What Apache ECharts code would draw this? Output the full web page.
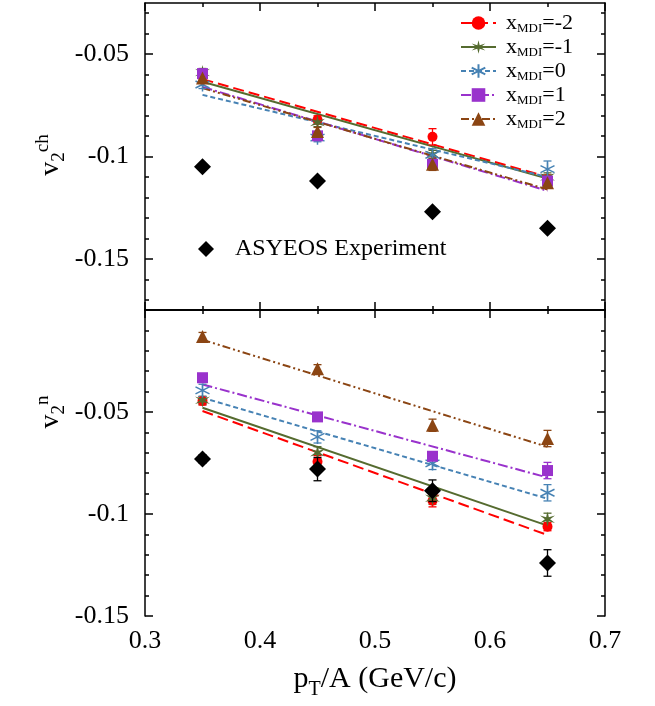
<!DOCTYPE html>
<html>
<head>
<meta charset="utf-8">
<script src="https://cdn.jsdelivr.net/npm/echarts@6/dist/echarts.min.js"></script>
<style>
  html, body { margin: 0; padding: 0; background: #fff; }
  #chart { width: 655px; height: 706px; }
</style>
</head>
<body>
<div id="chart"></div>
<script>
// ---- data -------------------------------------------------------------
const pT = [0.35, 0.45, 0.55, 0.65];          // p_T/A (GeV/c)
const fitX = [0.35, 0.65];                    // end points of the linear fits

const xTickValues = [0.3, 0.4, 0.5, 0.6, 0.7];
const xMinorValues = [0.35, 0.45, 0.55, 0.65];
const yTickValues = [-0.15, -0.1, -0.05];
const yMinorCh = [-0.17, -0.16, -0.14, -0.13, -0.12, -0.11, -0.09, -0.08, -0.07, -0.06, -0.04, -0.03];
const yMinorN = [-0.14, -0.13, -0.12, -0.11, -0.09, -0.08, -0.07, -0.06, -0.04, -0.03, -0.02, -0.01];

const modelNames = ['x_MDI=-2', 'x_MDI=-1', 'x_MDI=0', 'x_MDI=1', 'x_MDI=2'];
const expName = 'ASYEOS Experiment';

// charged particles, v2^ch
const chM2 = [-0.0605, -0.0821, -0.0904, -0.1110];
const chM2Err = [0.002, 0.002, 0.004, 0.002];
const chM2Fit = [-0.0622, -0.1100];
const chM1 = [-0.0590, -0.0834, -0.0990, -0.1100];
const chM1Err = [0.002, 0.002, 0.002, 0.002];
const chM1Fit = [-0.0635, -0.1108];
const chZ0 = [-0.0648, -0.0908, -0.0992, -0.1062];
const chZ0Err = [0.002, 0.002, 0.003, 0.004];
const chZ0Fit = [-0.0699, -0.1100];
const chP1 = [-0.0595, -0.0899, -0.1038, -0.1120];
const chP1Err = [0.002, 0.002, 0.002, 0.002];
const chP1Fit = [-0.0660, -0.1168];
const chP2 = [-0.0617, -0.0878, -0.1038, -0.1128];
const chP2Err = [0.002, 0.002, 0.003, 0.002];
const chP2Fit = [-0.0666, -0.1161];
const chExp = [-0.105, -0.112, -0.127, -0.135];

// neutrons, v2^n
const nM2 = [-0.0446, -0.0744, -0.0935, -0.1062];
const nM2Err = [0.002, 0.003, 0.003, 0.002];
const nM2Fit = [-0.0495, -0.1103];
const nM1 = [-0.0443, -0.0700, -0.0923, -0.1026];
const nM1Err = [0.002, 0.003, 0.003, 0.003];
const nM1Fit = [-0.0479, -0.1057];
const nZ0 = [-0.0394, -0.0622, -0.0752, -0.0896];
const nZ0Err = [0.003, 0.003, 0.003, 0.004];
const nZ0Fit = [-0.0430, -0.0925];
const nP1 = [-0.0332, -0.0524, -0.0717, -0.0787];
const nP1Err = [0.002, 0.002, 0.002, 0.004];
const nP1Fit = [-0.0365, -0.0821];
const nP2 = [-0.0130, -0.0288, -0.0565, -0.0630];
const nP2Err = [0.002, 0.002, 0.003, 0.004];
const nP2Fit = [-0.0146, -0.0671];
const nExp = [-0.0730, -0.0780, -0.0886, -0.1240];
const nExpErr = [0.002, 0.0057, 0.0053, 0.0065];

// ---- styles -----------------------------------------------------------
const FONT = 'Liberation Serif';
const STAR6 = 'path://M0,-10L1.5,-2.6L8.66,-5L3,0L8.66,5L1.5,2.6L0,10L-1.5,2.6L-8.66,5L-3,0L-8.66,-5L-1.5,-2.6Z';
const ASTERISK = 'path://M0,-10L0,10M-8.66,-5L8.66,5M-8.66,5L8.66,-5';

const modelStyles = [
  { color: '#ff0000', symbol: 'circle', size: 10, dash: [11, 5], fill: true },
  { color: '#556b2f', symbol: STAR6, size: 15, dash: 'solid', fill: true },
  { color: '#4682b4', symbol: ASTERISK, size: 14, dash: [5, 3], fill: false },
  { color: '#9932cc', symbol: 'rect', size: 11, dash: [10, 3, 2, 3], fill: true },
  { color: '#8b4513', symbol: 'triangle', size: 13, dash: [8, 3, 2, 3, 2, 3], fill: true }
];

const chSets = [
  [chM2, chM2Err, chM2Fit], [chM1, chM1Err, chM1Fit], [chZ0, chZ0Err, chZ0Fit],
  [chP1, chP1Err, chP1Fit], [chP2, chP2Err, chP2Fit]
];
const nSets = [
  [nM2, nM2Err, nM2Fit], [nM1, nM1Err, nM1Fit], [nZ0, nZ0Err, nZ0Fit],
  [nP1, nP1Err, nP1Fit], [nP2, nP2Err, nP2Fit]
];

// ---- axes -------------------------------------------------------------
const black = { color: '#000', width: 1.5 };
const tickLabel = { color: '#000', fontFamily: FONT, fontSize: 26 };

function xAxesFor(grid, withLabels) {
  const base = { gridIndex: grid, type: 'value', min: 0.3, max: 0.7, splitLine: { show: false } };
  const major = (pos, labels) => Object.assign({}, base, {
    position: pos,
    axisLine: { show: true, lineStyle: black },
    axisTick: { show: true, inside: true, length: 8, customValues: xTickValues, lineStyle: black },
    axisLabel: Object.assign({ show: labels, margin: 12, customValues: xTickValues, formatter: v => v.toFixed(1) }, tickLabel)
  });
  const minor = pos => Object.assign({}, base, {
    position: pos,
    axisLine: { show: false },
    axisTick: { show: true, inside: true, length: 4, customValues: xMinorValues, lineStyle: black },
    axisLabel: { show: false }
  });
  const bottom = major('bottom', withLabels);
  if (withLabels) {
    bottom.name = 'p{s|T}/A (GeV/c)';
    bottom.nameLocation = 'middle';
    bottom.nameGap = 48;
    bottom.nameTextStyle = {
      color: '#000', fontFamily: FONT, fontSize: 30,
      rich: {
        s: { fontFamily: FONT, fontSize: 20, color: '#000', lineHeight: 20, padding: [16, 0, 0, 0], verticalAlign: 'top' }
      }
    };
  }
  return [bottom, minor('bottom'), major('top', false), minor('top')];
}

function yAxesFor(grid, min, max, minorValues) {
  const base = { gridIndex: grid, type: 'value', min: min, max: max, splitLine: { show: false } };
  const major = (pos, labels) => Object.assign({}, base, {
    position: pos,
    axisLine: { show: true, lineStyle: black },
    axisTick: { show: true, inside: true, length: 8, customValues: yTickValues, lineStyle: black },
    axisLabel: Object.assign({ show: labels, margin: 16, customValues: yTickValues, formatter: v => String(v) }, tickLabel)
  });
  const minor = pos => Object.assign({}, base, {
    position: pos,
    axisLine: { show: false },
    axisTick: { show: true, inside: true, length: 4, customValues: minorValues, lineStyle: black },
    axisLabel: { show: false }
  });
  return [major('left', true), minor('left'), major('right', false), minor('right')];
}

// ---- series -----------------------------------------------------------
function errorBars(color) {
  return function (params, api) {
    const x = api.value(0);
    const lo = api.coord([x, api.value(1)]);
    const hi = api.coord([x, api.value(2)]);
    const w = 4;
    const st = { stroke: color, lineWidth: 1.3 };
    return {
      type: 'group',
      children: [
        { type: 'line', shape: { x1: lo[0], y1: lo[1], x2: hi[0], y2: hi[1] }, style: st },
        { type: 'line', shape: { x1: lo[0] - w, y1: lo[1], x2: lo[0] + w, y2: lo[1] }, style: st },
        { type: 'line', shape: { x1: hi[0] - w, y1: hi[1], x2: hi[0] + w, y2: hi[1] }, style: st }
      ]
    };
  };
}

function markerItemStyle(st) {
  return st.fill
    ? { color: st.color, opacity: 1 }
    : { color: 'rgba(0,0,0,0)', borderColor: st.color, borderWidth: 1.5, opacity: 1 };
}

const fitSeries = [], errSeries = [], pointSeries = [];
[chSets, nSets].forEach(function (sets, panel) {
  const ax = panel * 4;
  sets.forEach(function (set, k) {
    const st = modelStyles[k];
    const [vals, errs, fit] = set;
    fitSeries.push({
      type: 'line', name: modelNames[k], xAxisIndex: ax, yAxisIndex: ax,
      data: fitX.map((x, i) => [x, fit[i]]),
      showSymbol: false, symbol: st.symbol, symbolSize: st.size,
      lineStyle: { color: st.color, width: 2, type: st.dash },
      itemStyle: markerItemStyle(st),
      silent: true, z: 2
    });
    errSeries.push({
      type: 'custom', name: modelNames[k], xAxisIndex: ax, yAxisIndex: ax,
      data: pT.map((x, i) => [x, vals[i] - errs[i], vals[i] + errs[i]]),
      encode: { x: 0, y: [1, 2] },
      renderItem: errorBars(st.color), silent: true, z: 3
    });
    pointSeries.push({
      type: 'scatter', name: modelNames[k], xAxisIndex: ax, yAxisIndex: ax,
      data: pT.map((x, i) => [x, vals[i]]),
      symbol: st.symbol, symbolSize: st.size,
      itemStyle: markerItemStyle(st), silent: true, z: 4
    });
  });
});

const expSeries = [
  {
    type: 'scatter', name: expName, xAxisIndex: 0, yAxisIndex: 0,
    data: pT.map((x, i) => [x, chExp[i]]),
    symbol: 'diamond', symbolSize: 17, itemStyle: { color: '#000', opacity: 1 }, silent: true, z: 5
  },
  {
    type: 'scatter', name: expName, xAxisIndex: 4, yAxisIndex: 4,
    data: pT.map((x, i) => [x, nExp[i]]),
    symbol: 'diamond', symbolSize: 17, itemStyle: { color: '#000', opacity: 1 }, silent: true, z: 5
  },
  {
    type: 'custom', name: expName, xAxisIndex: 4, yAxisIndex: 4,
    data: pT.map((x, i) => [x, nExp[i] - nExpErr[i], nExp[i] + nExpErr[i]]),
    encode: { x: 0, y: [1, 2] },
    renderItem: errorBars('#000'), silent: true, z: 5
  }
];

// ---- chart ------------------------------------------------------------
const chart = echarts.init(document.getElementById('chart'), null, { renderer: 'canvas' });

const axisNameRich = {
  v: { fontFamily: FONT, fontSize: 28, lineHeight: 28, padding: [6, 0, 0, 0], verticalAlign: 'top', color: '#000' },
  b: { fontFamily: FONT, fontSize: 19, lineHeight: 19, padding: [19, 0, 0, 0], verticalAlign: 'top', color: '#000' },
  p: { fontFamily: FONT, fontSize: 19, lineHeight: 19, padding: [3, 0, 0, 0], verticalAlign: 'top', color: '#000' }
};

chart.setOption({
  animation: false,
  backgroundColor: '#fff',
  textStyle: { fontFamily: FONT },
  grid: [
    { left: 145, top: 3, width: 460, height: 307 },
    { left: 145, top: 310, width: 460, height: 306 }
  ],
  xAxis: xAxesFor(0, false).concat(xAxesFor(1, true)),
  yAxis: yAxesFor(0, -0.175, -0.025, yMinorCh).concat(yAxesFor(1, -0.15, 0, yMinorN)),
  legend: [
    {
      data: modelNames, orient: 'vertical', left: 460, top: 12, padding: 0,
      itemWidth: 35, itemHeight: 17, itemGap: 1, selectedMode: false,
      formatter: function (name) {
        const parts = name.split('_MDI');
        return '{g|}{m|' + parts[0] + '}{s|MDI}{m|' + parts[1] + '}';
      },
      textStyle: {
        color: '#000', fontFamily: FONT, fontSize: 22,
        rich: {
          g: { width: 5 },
          m: { fontFamily: FONT, fontSize: 22, lineHeight: 20, verticalAlign: 'top', color: '#000' },
          s: { fontFamily: FONT, fontSize: 13, lineHeight: 13, padding: [10, 0, 0, 0], verticalAlign: 'top', color: '#000' }
        }
      }
    },
    {
      data: [{ name: expName, icon: 'diamond' }], left: 198, top: 237, padding: 0,
      itemWidth: 16, itemHeight: 16, selectedMode: false,
      formatter: name => '{g|}' + name,
      textStyle: {
        color: '#000', fontFamily: FONT, fontSize: 24,
        rich: { g: { width: 16 } }
      }
    }
  ],
  graphic: [
    {
      type: 'text', x: 45, y: 155, rotation: Math.PI / 2,
      style: { text: '{v|v}{b|2}{p|ch}', rich: axisNameRich, align: 'center', verticalAlign: 'middle',
               textAlign: 'center', textVerticalAlign: 'middle', fill: '#000' }
    },
    {
      type: 'text', x: 45, y: 412, rotation: Math.PI / 2,
      style: { text: '{v|v}{b|2}{p|n}', rich: axisNameRich, align: 'center', verticalAlign: 'middle',
               textAlign: 'center', textVerticalAlign: 'middle', fill: '#000' }
    }
  ],
  series: fitSeries.concat(expSeries.slice(0, 1), errSeries, pointSeries, expSeries.slice(1))
});
</script>
</body>
</html>
